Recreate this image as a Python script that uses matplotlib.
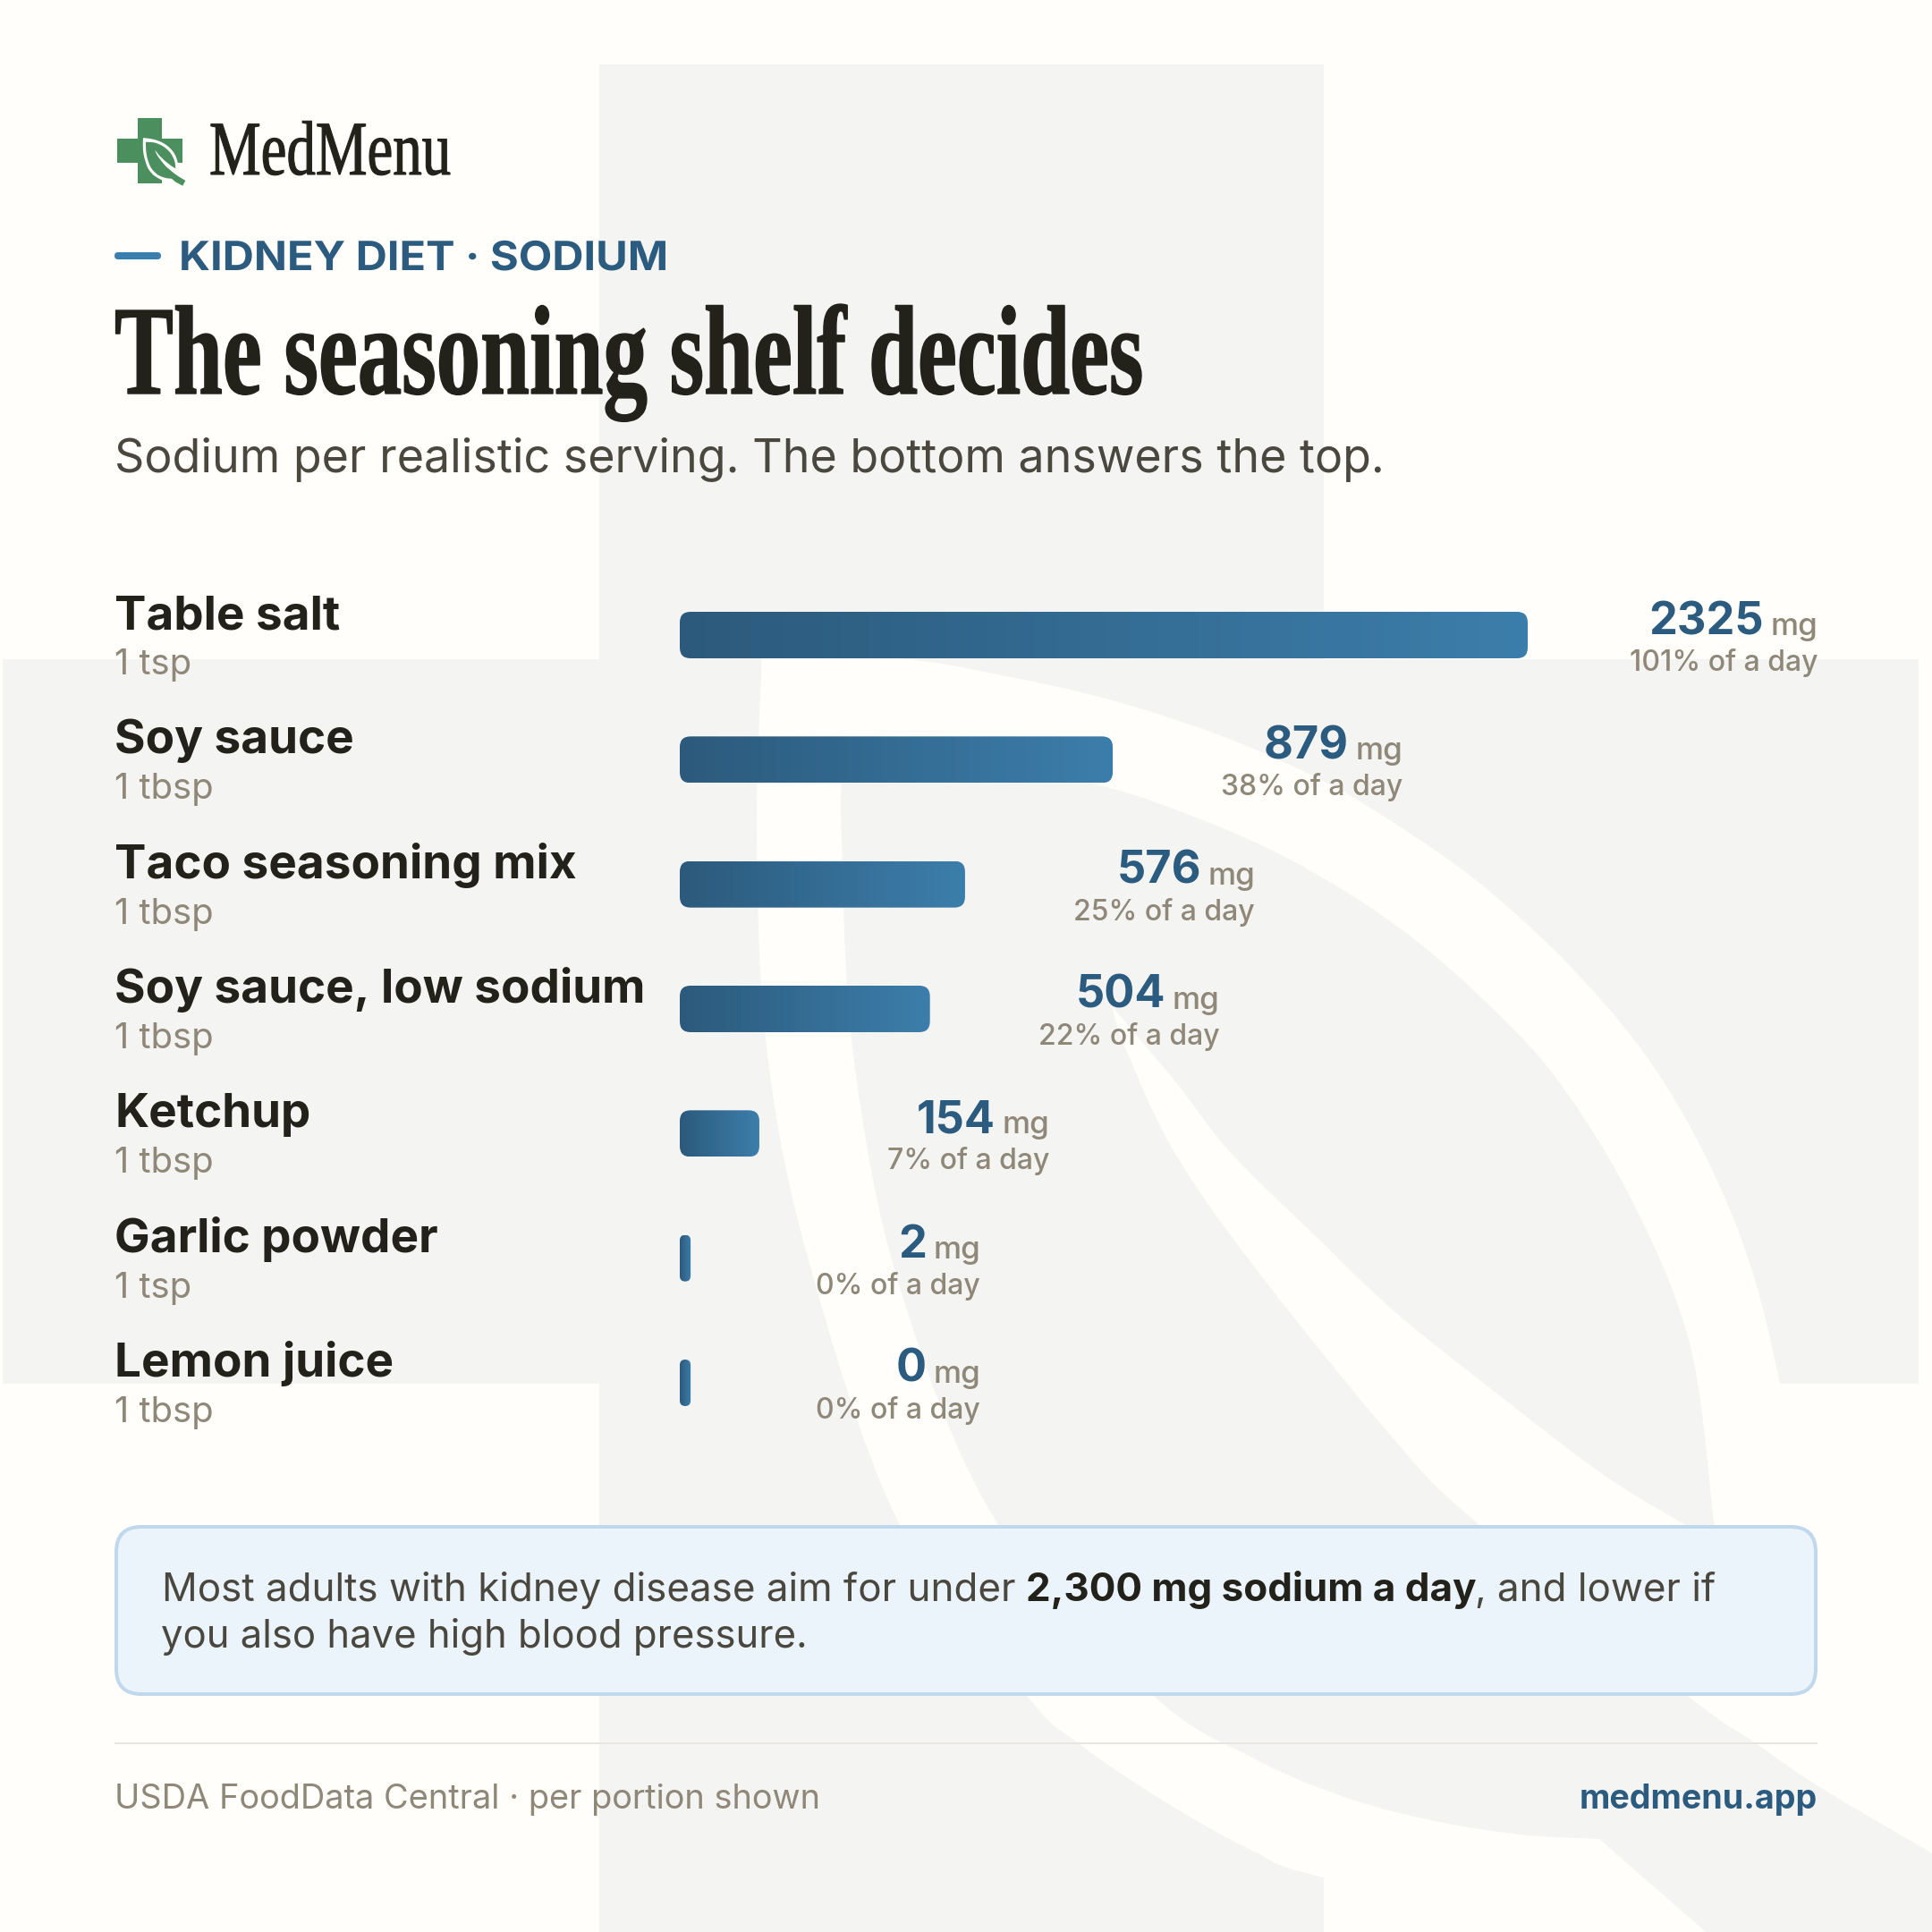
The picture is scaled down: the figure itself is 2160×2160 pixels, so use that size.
import numpy as np
import matplotlib
matplotlib.use("Agg")
import matplotlib.pyplot as plt
from matplotlib.colors import LinearSegmentedColormap
from matplotlib.patches import FancyBboxPatch, Polygon, Rectangle
from matplotlib.patheffects import AbstractPathEffect
from matplotlib.transforms import Affine2D

# Data
foods = ["Table salt", "Soy sauce", "Taco seasoning mix", "Soy sauce, low sodium",
         "Ketchup", "Garlic powder", "Lemon juice"]
portions = ["1 tsp", "1 tbsp", "1 tbsp", "1 tbsp", "1 tbsp", "1 tsp", "1 tbsp"]
sodium_mg = [2325, 879, 576, 504, 154, 2, 0]
pct_of_day = [101, 38, 25, 22, 7, 0, 0]

# Colours
PAPER = "#FFFEFA"
MARK_GREY = "#F4F4F3"
INK = "#22211A"
BODY = "#4A473F"
MUTED = "#8F8778"
BLUE = "#2B5B7F"
BAR_LEFT = "#2C5A7C"
BAR_RIGHT = "#3C7EAB"

W = 2160
plt.rcParams["font.family"] = ["Inter", "DejaVu Sans"]


def fpx(px):
    # font size given in image pixels (dpi is 100)
    return px * 0.72


class XScale(AbstractPathEffect):
    # squeeze or widen a text run sideways, optional stroke to thicken it
    def __init__(self, sx, stroke=0):
        self.sx = sx
        self.stroke = stroke

    def draw_path(self, renderer, gc, tpath, affine, rgbFace=None):
        aff = Affine2D().scale(self.sx, 1) + affine
        if self.stroke:
            gc0 = renderer.new_gc()
            gc0.copy_properties(gc)
            gc0.set_foreground(rgbFace)
            gc0.set_linewidth(self.stroke)
            renderer.draw_path(gc0, tpath, aff, rgbFace)
            gc0.restore()
        else:
            renderer.draw_path(gc, tpath, aff, rgbFace)


def smooth(pts, n=14):
    # Catmull-Rom through the given points, ends kept sharp
    pts = np.array(pts, dtype=float)
    p = np.vstack([2 * pts[0] - pts[1], pts, 2 * pts[-1] - pts[-2]])
    out = []
    for i in range(1, len(p) - 2):
        for t in np.linspace(0, 1, n, endpoint=False):
            a = 2 * p[i] + (p[i + 1] - p[i - 1]) * t
            b = (2 * p[i - 1] - 5 * p[i] + 4 * p[i + 1] - p[i + 2]) * t ** 2
            c = (3 * p[i] - p[i - 1] - 3 * p[i + 1] + p[i + 2]) * t ** 3
            out.append(0.5 * (a + b + c))
    out.append(pts[-1])
    return np.array(out)


# Outline of the brand mark, traced at the size of the big watermark
LEAF_OUTER = [(852, 722), (1023, 738), (1100, 751), (1225, 778), (1350, 817), (1457, 862), (1546, 912),
              (1660, 992), (1774, 1100), (1866, 1219), (1943, 1375), (1990, 1547), (2030, 1800),
              (1990, 2050), (1800, 2170), (1479, 2099), (1400, 2069), (1300, 2013), (1207, 1950),
              (1148, 1896), (1005, 1703), (904, 1409), (858, 1179), (846, 940), (852, 722)]
LEAF_RIGHT = [(941, 858), (1100, 862), (1225, 877), (1350, 919), (1457, 969), (1564, 1037), (1660, 1119),
              (1744, 1211), (1828, 1349), (1890, 1506), (1916, 1700), (1920, 1725)]
VEIN_TOP = [(1920, 1725), (1876, 1700), (1790, 1647), (1675, 1559), (1560, 1467), (1470, 1381),
            (1377, 1290), (1314, 1209), (1243, 1125)]
VEIN_LOW = [(1243, 1125), (1257, 1169), (1314, 1290), (1409, 1425), (1560, 1611), (1648, 1700),
            (1887, 1896), (1960, 1947), (2033, 1997), (2160, 2072), (2240, 2118)]
STEM_LOW = [(2150, 2290), (1907, 2160), (1788, 2056)]
LEAF_LEFT = [(1788, 2056), (1700, 2051), (1600, 2035), (1500, 2008), (1400, 1965), (1290, 1896),
             (1115, 1703), (1005, 1436), (954, 1179), (941, 940), (941, 858)]
CROSS = [(670, 72), (1480, 72), (1480, 737), (2145, 737), (2145, 1547), (1480, 1547), (1480, 2214),
         (670, 2214), (670, 1547), (3, 1547), (3, 737), (670, 737)]


def draw_mark(ax, colour, scale=1.0, ox=0.0, oy=0.0, z=1):
    move = lambda a: np.array(a, dtype=float) * scale + [ox, oy]
    ax.add_patch(Polygon(move(CROSS), closed=True, fc=colour, ec="none", zorder=z))
    ax.add_patch(Polygon(move(smooth(LEAF_OUTER)), closed=True, fc=PAPER, ec="none", zorder=z + 0.1))
    grey = np.vstack([smooth(LEAF_RIGHT), smooth(VEIN_TOP), smooth(VEIN_LOW),
                      STEM_LOW, smooth(LEAF_LEFT)])
    ax.add_patch(Polygon(move(grey), closed=True, fc=colour, ec="none", zorder=z + 0.2))


fig = plt.figure(figsize=(W / 100, W / 100), dpi=100, facecolor=PAPER)

# Whole-page axes in image pixels for the furniture
ax = fig.add_axes([0, 0, 1, 1])
ax.set_xlim(0, W)
ax.set_ylim(W, 0)
ax.axis("off")

draw_mark(ax, MARK_GREY)

# Logo
logo_scale = 1 / 29.3
draw_mark(ax, "#4C8F5F", logo_scale, 131 - 3 * logo_scale, 132 - 72 * logo_scale, z=3)
ax.text(234, 195, "MedMenu", family="Liberation Serif", fontsize=fpx(86), color=INK,
        path_effects=[XScale(0.754, 0.8)], zorder=5)

# Header
ax.add_patch(FancyBboxPatch((128, 282), 52, 8, boxstyle="round,pad=0,rounding_size=4",
                            fc="#3B7FB0", ec="none", zorder=5))
ax.text(200, 302, "KIDNEY DIET · SODIUM", fontsize=fpx(45), fontweight="bold", color=BLUE,
        path_effects=[XScale(1.082)], zorder=5)
ax.text(128, 440, "The seasoning shelf decides", family="Liberation Serif", fontweight="bold",
        fontsize=fpx(142), color=INK, path_effects=[XScale(0.696, 1)], zorder=5)
ax.text(128, 528, "Sodium per realistic serving. The bottom answers the top.", fontsize=fpx(52),
        color=BODY, zorder=5)

# Chart axes: x in mg, one row per food. The top of the scale clips, short bars get a floor.
px_per_mg = 0.545
x_min = -9.2
x_max = x_min + 948 / px_per_mg
bar_floor = 13
row_h = 139.33
bar_h = 52
ax_b = fig.add_axes([760 / W, 1 - (710 + 6.5 * row_h) / W, 948 / W, 7 * row_h / W])
ax_b.patch.set_alpha(0)
ax_b.axis("off")

bar_cmap = LinearSegmentedColormap.from_list("bar", [BAR_LEFT, BAR_RIGHT])
h_row = bar_h / row_h
for i, (food, portion, mg, pct) in enumerate(zip(foods, portions, sodium_mg, pct_of_day)):
    end = np.clip(mg, bar_floor, x_max)
    w_px = (end - x_min) * px_per_mg
    r_px = min(12, w_px / 2)
    box = FancyBboxPatch((x_min, i - h_row / 2), end - x_min, h_row,
                         boxstyle=f"round,pad=0,rounding_size={r_px / px_per_mg}",
                         mutation_aspect=px_per_mg / row_h, fc="none", ec="none", zorder=3)
    ax_b.add_patch(box)
    im = ax_b.imshow(np.linspace(0, 1, 256).reshape(1, -1), cmap=bar_cmap, aspect="auto",
                     extent=(x_min, end, i + h_row / 2, i - h_row / 2), zorder=3)
    im.set_clip_path(box)

    # Labels hang off the bar end, so they follow the axes
    ax_b.annotate(f"{mg}", (end, i), xytext=(fpx(264), fpx(1)), textcoords="offset points",
                  ha="right", va="baseline", fontsize=fpx(50.5), fontweight="bold", color=BLUE, zorder=5)
    ax_b.annotate("mg", (end, i), xytext=(fpx(324), fpx(0)), textcoords="offset points",
                  ha="right", va="baseline", fontsize=fpx(35), fontweight="medium", color=MUTED, zorder=5)
    ax_b.annotate(f"{pct}% of a day", (end, i), xytext=(fpx(324), fpx(-40)), textcoords="offset points",
                  ha="right", va="baseline", fontsize=fpx(32), fontweight="medium", color=MUTED, zorder=5)

    # Food name and portion sit at a fixed left edge
    ax_b.annotate(food, (x_min, i), xytext=(fpx(128 - 760), fpx(7)), textcoords="offset points",
                  ha="left", va="baseline", fontsize=fpx(53), fontweight="bold", color=INK, zorder=5)
    ax_b.annotate(portion, (x_min, i), xytext=(fpx(128 - 760), fpx(-44)), textcoords="offset points",
                  ha="left", va="baseline", fontsize=fpx(40), color=MUTED, zorder=5)

ax_b.set_xlim(x_min, x_max)
ax_b.set_ylim(len(foods) - 0.5, -0.5)

# Callout
ax.add_patch(FancyBboxPatch((130, 1707), 1900, 187, boxstyle="round,pad=0,rounding_size=28",
                            fc="#EBF3FB", ec="#C0D8EB", lw=fpx(4), zorder=4))
ax.text(181, 1790, "Most adults with kidney disease aim for under", fontsize=fpx(44), color=BODY, zorder=5)
ax.text(1147, 1790, "2,300 mg sodium a day", fontsize=fpx(44), fontweight="bold", color=INK, zorder=5)
ax.text(1649, 1790, ", and lower if", fontsize=fpx(44), color=BODY, zorder=5)
ax.text(180, 1842, "you also have high blood pressure.", fontsize=fpx(43.6), color=BODY, zorder=5)

# Footer
ax.add_patch(Rectangle((128, 1948), 1904, 2, fc="#E9E6DF", ec="none", zorder=4))
ax.text(128, 2022, "USDA FoodData Central · per portion shown", fontsize=fpx(38), color=MUTED, zorder=5)
ax.text(2032, 2022, "medmenu.app", ha="right", fontsize=fpx(37.6), fontweight="bold", color=BLUE, zorder=5)

fig.savefig("out.png", dpi=100, facecolor=PAPER)
